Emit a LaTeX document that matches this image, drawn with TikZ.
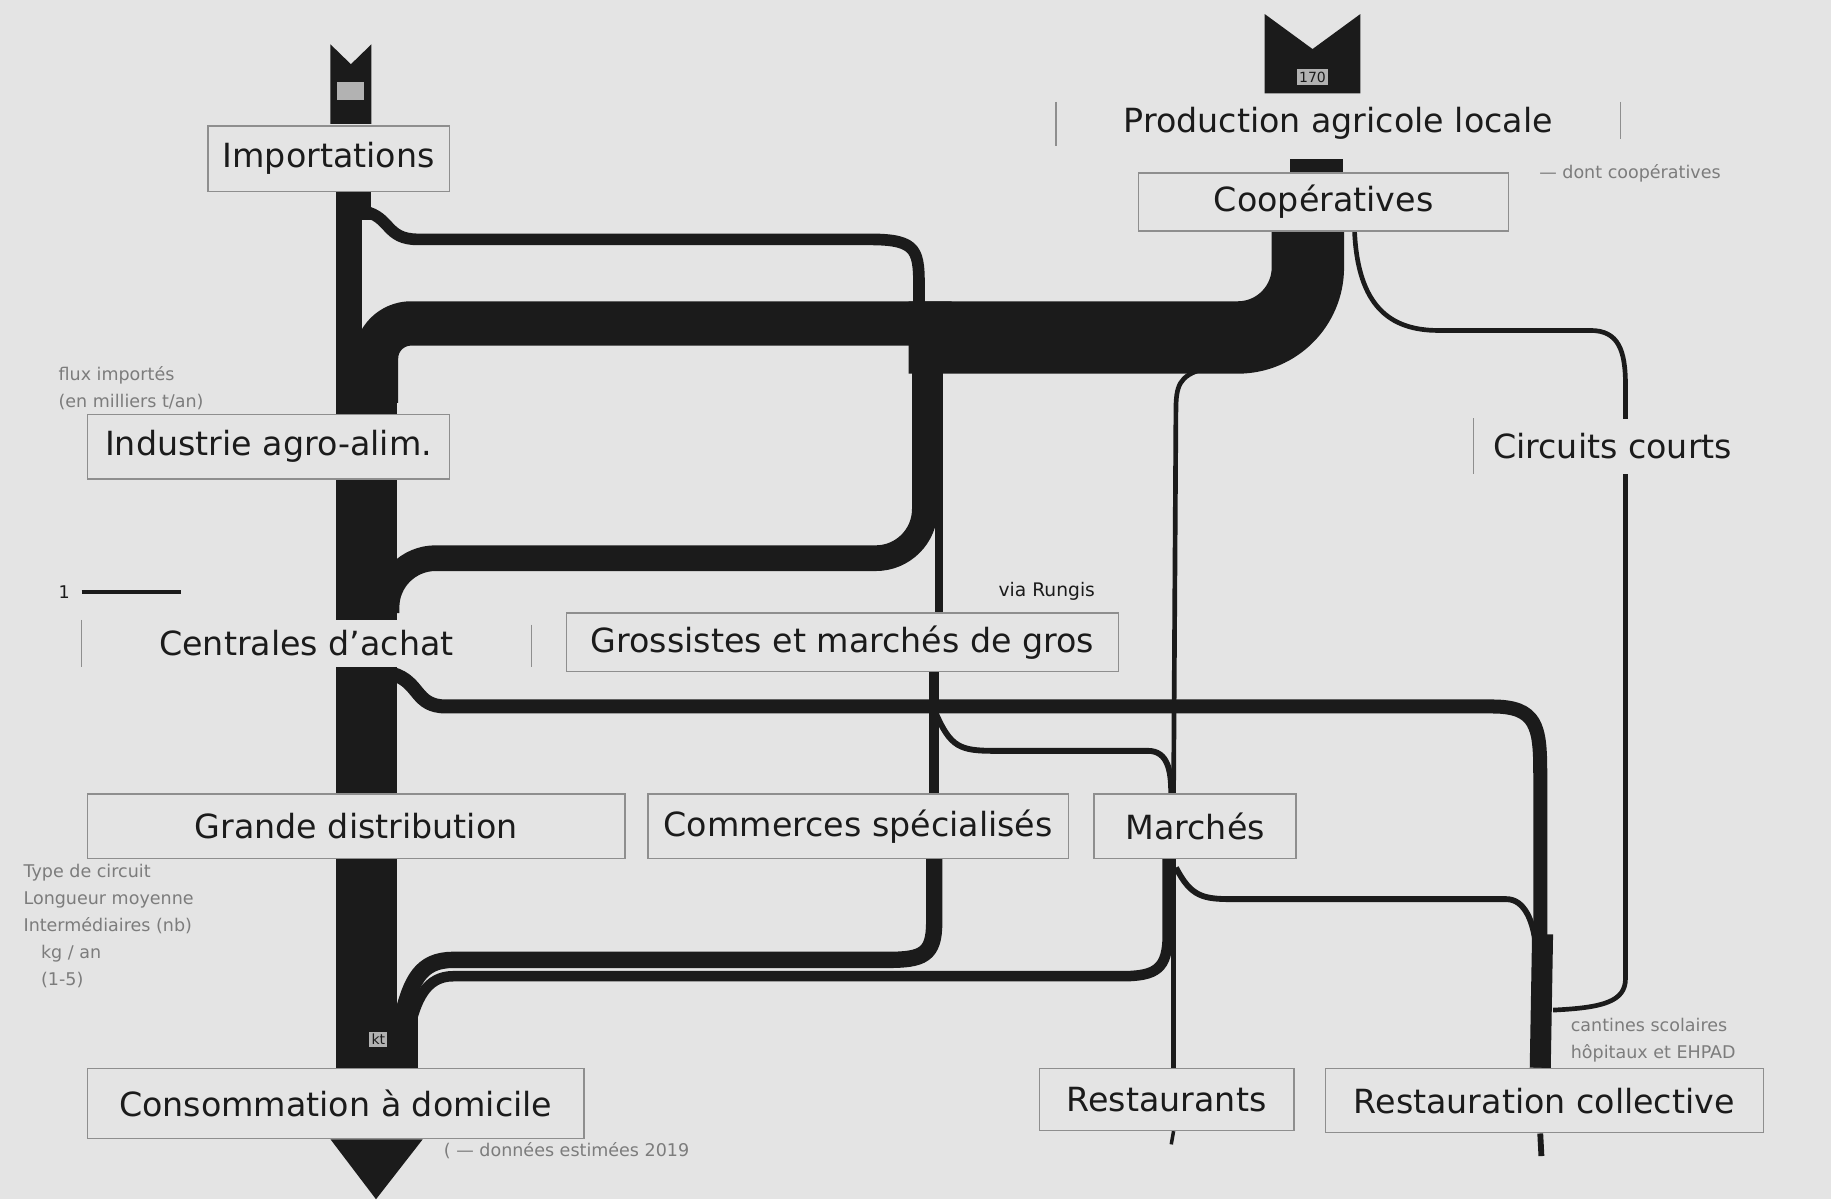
\documentclass[tikz,border=0pt]{standalone}
\usepackage{fontspec}
\setmainfont{DejaVu Sans}
\definecolor{bg}{HTML}{E4E4E4}
\definecolor{ink}{HTML}{1B1B1B}
\definecolor{frame}{HTML}{8E8E8E}
\definecolor{note}{HTML}{7C7C7C}
\pgfdeclarelayer{back}
\pgfdeclarelayer{flows}
\pgfsetlayers{back,flows,main}
\begin{document}
\begin{tikzpicture}[x=1pt,y=-1pt,
  box/.style={draw=frame, line width=1.3pt, fill=bg, inner sep=0pt, font=\fontsize{28.5}{32}\selectfont, text=ink},
  lbl/.style={fill=bg, inner sep=0pt, font=\fontsize{28.5}{32}\selectfont, text=ink},
  flow/.style={draw=ink, line cap=butt, line join=round},
  bar/.style={draw=frame, line width=1.3pt},
  note/.style={text=note, font=\fontsize{15}{23}\selectfont, align=left, inner sep=0pt},
  tag/.style={fill=gray!60, text=ink, font=\fontsize{12}{13}\selectfont, inner sep=2pt}
]
\begin{pgfonlayer}{back}
\fill[bg] (0,0) rectangle (1568,1027);
\end{pgfonlayer}
\useasboundingbox (0,0) rectangle (1568,1027);

% ---------- nodes ----------
\node[box, minimum width=207pt, minimum height=56pt] (imp) at (281.5,136) {Importations};
\node[lbl, minimum width=483pt, minimum height=37pt] (prod) at (1146,106) {Production agricole locale};
\node[box, minimum width=317pt, minimum height=50pt] (coop) at (1133.5,173) {Coopératives};
\node[box, minimum width=310pt, minimum height=55pt] (ind) at (230,382.5) {Industrie agro-alim.};
\node[lbl, minimum width=385pt, minimum height=40pt] (cen) at (262.5,551) {Centrales d'achat};
\node[box, minimum width=473pt, minimum height=50pt] (gros) at (721.5,550) {Grossistes et marchés de gros};
\node[lbl, minimum width=238pt, minimum height=47pt] (circ) at (1381,382) {Circuits courts};
\node[box, minimum width=460pt, minimum height=55pt] (gd) at (305,707.5) {Grande distribution};
\node[box, minimum width=360pt, minimum height=55pt] (com) at (735,707.5) {Commerces spécialisés};
\node[box, minimum width=173pt, minimum height=55pt] (mar) at (1023.5,707.5) {Marchés};
\node[box, minimum width=425pt, minimum height=60pt] (cons) at (287.5,945) {Consommation à domicile};
\node[box, minimum width=218pt, minimum height=53pt] (rest) at (999,941.5) {Restaurants};
\node[box, minimum width=375pt, minimum height=55pt] (rc) at (1322.5,942.5) {Restauration collective};

% label side bars
\draw[bar] (prod.north west) -- (prod.south west);
\draw[bar] (prod.north east) -- ([yshift=-13pt]prod.east);
\draw[bar] (cen.north west) -- (cen.south west);
\draw[bar] ([yshift=-4pt]cen.north east) -- (cen.south east);
\draw[bar] (circ.north west) -- (circ.south west);

% x positions used by the flows
\coordinate (xm1) at (303,0);
\coordinate (xm3) at (314,0);
\coordinate (xm4) at (323,0);
\coordinate (xbig) at (1120,0);
\coordinate (xsrc) at (1127.5,0);
\coordinate (xj) at (1160,0);
\coordinate (xb) at (804,0);
\coordinate (xc) at (800,0);
\coordinate (xmar) at (1005,0);
\coordinate (xmr) at (1003,0);
\coordinate (xg) at (1000,0);
\coordinate (xd) at (1319,0);

% ---------- flows ----------
\begin{pgfonlayer}{flows}
% main column
\draw[flow, line width=30pt] (imp.south -| xm1) -- (303,188);
\draw[flow, line width=22pt] (299,180) -- (299,300);
\draw[flow, line width=52pt] (314,295) -- (cons.north -| xm3);
\draw[flow, line width=70pt] (323,868) -- (cons.north -| xm4);
% Importations -> Centrales (top thin flow)
\draw[flow, line width=10pt] (312,181) .. controls (335,186) and (330,205) .. (358,205) -- (745,205) .. controls (787,205) and (787,215) .. (787,250) -- (787,330);
% big band from Cooperatives
\draw[flow, line width=62pt, rounded corners=60pt] (coop.south -| xbig) -- (1120,289) -- (778,289);
\draw[flow, line width=38pt, rounded corners=30pt] (815,277) -- (322,277) -- (322,345);
% loop to Centrales d'achat
\draw[flow, line width=22pt, rounded corners=42pt] (792,290) -- (792,478) -- (331,478) -- (331,525);
% Cooperatives -> Grossistes
\draw[flow, line width=7pt] (804,300) -- (gros.north -| xb);
% Cooperatives -> Marches (thin)
\draw[flow, line width=4pt] (1030,316) .. controls (1010,322) and (1007,330) .. (1007,352) -- (mar.north -| xmar);
% Cooperatives -> Circuits courts -> Restauration collective
\draw[flow, line width=4pt] (coop.south -| xj) .. controls (1163,262) and (1190,283) .. (1232,283) -- (1362,283) .. controls (1386,283) and (1392,300) .. (1392,330) -- (1392,838) .. controls (1392,858) and (1372,863) .. (1330,865);
% Grossistes -> Commerces / Marches
\draw[flow, line width=9pt] (gros.south -| xc) -- (com.north -| xc);
\draw[flow, line width=5pt] (801,610) .. controls (814,640) and (822,643) .. (852,643) -- (983,643) .. controls (1000,643) and (1003,660) .. (mar.north -| xmr);
% Centrales -> Restauration collective
\draw[flow, line width=12pt] (336,577) .. controls (360,584) and (355,605) .. (382,605) -- (1278,605) .. controls (1316,605) and (1319,622) .. (1319,662) -- (rc.north -| xd);
\draw[flow, line width=18pt] (1321,800) -- (rc.north -| xd);
% Commerces / Marches -> Consommation
\draw[flow, line width=14pt] (com.south -| xc) -- (800,790) .. controls (800,818) and (790,822) .. (760,822) -- (388,822) .. controls (360,822) and (352,840) .. (344,872);
\draw[flow, line width=9pt] (mar.south -| xg) -- (1000,800) .. controls (1000,830) and (990,836) .. (960,836) -- (388,836) .. controls (365,836) and (356,856) .. (350,884);
% Marches -> Restaurants / Restauration collective
\draw[flow, line width=4pt] (mar.south -| xmar) -- (rest.north -| xmar);
\draw[flow, line width=5pt] (1007,743) .. controls (1020,768) and (1030,770) .. (1056,770) -- (1290,770) .. controls (1306,770) and (1313,790) .. (1315,808);
% sink ticks
\draw[flow, line width=3pt] (rest.south -| xmar) -- (1003,980);
\draw[flow, line width=5pt] (rc.south -| xd) -- (1320,990);
\end{pgfonlayer}

% ---------- sources and sink ----------
\fill[ink] (283,38) -- (300.5,55) -- (318,38) -- (318,106) -- (283,106) -- cycle;
\fill[gray!60] (289,70) rectangle (312,86);
\fill[ink] (1083,12) -- (1124,42) -- (1165,12) -- (1165,80) -- (1083,80) -- cycle;
\node[tag] (v170) at (1124,66) {170};
\draw[flow, line width=45pt] (coop.north -| xsrc) -- ++(0,-11);
\fill[ink] (cons.south -| 283,0) -- (cons.south -| 362,0) -- (322,1027) -- cycle;
\node[tag] (vkt) at (324,890) {kt};

% ---------- notes ----------
\node[note, anchor=north west] (n1) at (50,314) {flux importés\\(en milliers t/an)};
\node[note, text=ink, anchor=west] (n2) at (50,507) {1};
\draw[ink, line width=4pt] (n2.east) ++(10,0) -- ++(85,0);
\node[note, text=ink, font=\fontsize{16}{18}\selectfont, anchor=west] (n3) at (855,506) {via Rungis};
\node[note, anchor=west] (n4) at (1318,148) {— dont coopératives};
\node[note, anchor=north west] (n5) at (20,740) {Type de circuit\\Longueur moyenne\\Intermédiaires (nb)\\\quad kg / an\\\quad (1-5)};
\node[note, anchor=north west] (n6) at (1345,872) {cantines scolaires\\hôpitaux et EHPAD};
\node[note, anchor=west] (n7) at (380,985) {( — données estimées 2019};
\end{tikzpicture}
\end{document}
